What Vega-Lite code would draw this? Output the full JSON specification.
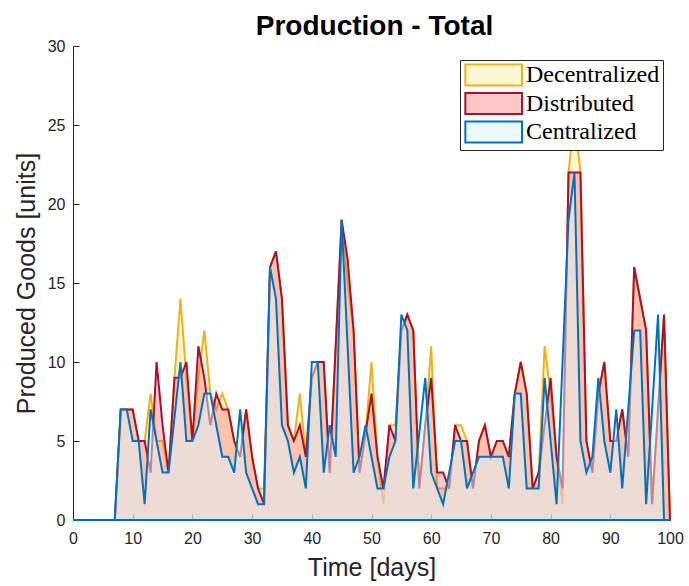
{
  "$schema": "https://vega.github.io/schema/vega-lite/v6.json",
  "autosize": {"type": "none"},
  "width": 597,
  "height": 474,
  "padding": {"left": 73, "top": 46, "right": 19, "bottom": 66},
  "background": "white",
  "title": {"text": "Production - Total", "font": "Liberation Sans", "fontSize": 28, "fontWeight": "bold", "color": "black", "anchor": "middle", "offset": -3, "dx": 3},
  "config": {
    "view": {"stroke": null},
    "axis": {"grid": false, "domainColor": "#262626", "tickColor": "#262626", "labelColor": "#262626", "titleColor": "#262626", "labelFont": "Liberation Sans", "titleFont": "Liberation Sans", "labelFontSize": 16, "titleFontSize": 25, "titleFontWeight": "normal", "tickSize": -6, "domainWidth": 1, "tickWidth": 1, "labelFlush": false}
  },
  "datasets": {
    "dec": [
      {"day":0,"value":0},{"day":1,"value":0},{"day":2,"value":0},{"day":3,"value":0},{"day":4,"value":0},{"day":5,"value":0},{"day":6,"value":0},{"day":7,"value":0},
      {"day":8,"value":7},{"day":9,"value":7},{"day":10,"value":7},{"day":11,"value":5},{"day":12,"value":5},{"day":13,"value":8},{"day":14,"value":5},{"day":15,"value":5},{"day":16,"value":3},{"day":17,"value":9},{"day":18,"value":14},{"day":19,"value":9},{"day":20,"value":5},
      {"day":21,"value":9},{"day":22,"value":12},{"day":23,"value":8},{"day":24,"value":7},{"day":25,"value":8},{"day":26,"value":7},{"day":27,"value":5},{"day":28,"value":4},{"day":29,"value":7},{"day":30,"value":4},
      {"day":31,"value":2},{"day":32,"value":2},{"day":33,"value":16},{"day":34,"value":17},{"day":35,"value":14},{"day":36,"value":6},{"day":37,"value":5},{"day":38,"value":8},{"day":39,"value":4},{"day":40,"value":9},
      {"day":41,"value":10},{"day":42,"value":10},{"day":43,"value":3},{"day":44,"value":11},{"day":45,"value":19},{"day":46,"value":15},{"day":47,"value":12},{"day":48,"value":3},{"day":49,"value":5.5},{"day":50,"value":10},
      {"day":51,"value":4},{"day":52,"value":1},{"day":53,"value":6},{"day":54,"value":6},{"day":55,"value":12},{"day":56,"value":13},{"day":57,"value":12},{"day":58,"value":2},{"day":59,"value":6},{"day":60,"value":11},
      {"day":61,"value":2},{"day":62,"value":2},{"day":63,"value":2},{"day":64,"value":6},{"day":65,"value":6},{"day":66,"value":5},{"day":67,"value":2},{"day":68,"value":5},{"day":69,"value":6},{"day":70,"value":4},
      {"day":71,"value":5},{"day":72,"value":5},{"day":73,"value":4},{"day":74,"value":8},{"day":75,"value":10},{"day":76,"value":8},{"day":77,"value":2},{"day":78,"value":3},{"day":79,"value":11},{"day":80,"value":8},
      {"day":81,"value":4},{"day":82,"value":1},{"day":83,"value":22},{"day":84,"value":25.5},{"day":85,"value":22},{"day":86,"value":5},{"day":87,"value":3},{"day":88,"value":8},{"day":89,"value":10},{"day":90,"value":5},
      {"day":91,"value":5},{"day":92,"value":7},{"day":93,"value":4},{"day":94,"value":16},{"day":95,"value":14},{"day":96,"value":12},{"day":97,"value":1},{"day":98,"value":7},{"day":99,"value":13},{"day":100,"value":0}
    ],
    "dis": [
      {"day":0,"value":0},{"day":1,"value":0},{"day":2,"value":0},{"day":3,"value":0},{"day":4,"value":0},{"day":5,"value":0},{"day":6,"value":0},{"day":7,"value":0},
      {"day":8,"value":7},{"day":9,"value":7},{"day":10,"value":7},{"day":11,"value":5},{"day":12,"value":5},{"day":13,"value":3},{"day":14,"value":10},{"day":15,"value":6},{"day":16,"value":3},{"day":17,"value":9},{"day":18,"value":9},{"day":19,"value":10},{"day":20,"value":5},
      {"day":21,"value":11},{"day":22,"value":9},{"day":23,"value":6},{"day":24,"value":8},{"day":25,"value":7},{"day":26,"value":7},{"day":27,"value":5},{"day":28,"value":4},{"day":29,"value":7},{"day":30,"value":4},
      {"day":31,"value":2},{"day":32,"value":1},{"day":33,"value":16},{"day":34,"value":17},{"day":35,"value":14},{"day":36,"value":6},{"day":37,"value":5},{"day":38,"value":6},{"day":39,"value":4},{"day":40,"value":9},
      {"day":41,"value":10},{"day":42,"value":10},{"day":43,"value":3},{"day":44,"value":11},{"day":45,"value":19},{"day":46,"value":16.5},{"day":47,"value":12},{"day":48,"value":3},{"day":49,"value":5.5},{"day":50,"value":8},
      {"day":51,"value":4},{"day":52,"value":2},{"day":53,"value":6},{"day":54,"value":5},{"day":55,"value":12},{"day":56,"value":13},{"day":57,"value":12},{"day":58,"value":2},{"day":59,"value":6},{"day":60,"value":9},
      {"day":61,"value":3},{"day":62,"value":3},{"day":63,"value":2},{"day":64,"value":6},{"day":65,"value":5},{"day":66,"value":5},{"day":67,"value":2},{"day":68,"value":5},{"day":69,"value":6},{"day":70,"value":4},
      {"day":71,"value":5},{"day":72,"value":5},{"day":73,"value":4},{"day":74,"value":8},{"day":75,"value":10},{"day":76,"value":8},{"day":77,"value":2},{"day":78,"value":3},{"day":79,"value":6},{"day":80,"value":9},
      {"day":81,"value":4},{"day":82,"value":2},{"day":83,"value":22},{"day":84,"value":22},{"day":85,"value":22},{"day":86,"value":5},{"day":87,"value":3},{"day":88,"value":8},{"day":89,"value":10},{"day":90,"value":5},
      {"day":91,"value":5},{"day":92,"value":7},{"day":93,"value":4},{"day":94,"value":16},{"day":95,"value":14},{"day":96,"value":12},{"day":97,"value":1},{"day":98,"value":7},{"day":99,"value":13},{"day":100,"value":0}
    ],
    "cen": [
      {"day":0,"value":0},{"day":1,"value":0},{"day":2,"value":0},{"day":3,"value":0},{"day":4,"value":0},{"day":5,"value":0},{"day":6,"value":0},{"day":7,"value":0},
      {"day":8,"value":7},{"day":9,"value":7},{"day":10,"value":5},{"day":11,"value":5},{"day":12,"value":1},{"day":13,"value":7},{"day":14,"value":5},{"day":15,"value":3},{"day":16,"value":3},{"day":17,"value":6.5},{"day":18,"value":10},{"day":19,"value":5},{"day":20,"value":5},
      {"day":21,"value":6},{"day":22,"value":8},{"day":23,"value":8},{"day":24,"value":6},{"day":25,"value":4},{"day":26,"value":4},{"day":27,"value":3},{"day":28,"value":7},{"day":29,"value":3},{"day":30,"value":2},
      {"day":31,"value":1},{"day":32,"value":1},{"day":33,"value":16},{"day":34,"value":14},{"day":35,"value":6},{"day":36,"value":5},{"day":37,"value":3},{"day":38,"value":4},{"day":39,"value":2},{"day":40,"value":10},
      {"day":41,"value":10},{"day":42,"value":3},{"day":43,"value":6},{"day":44,"value":4},{"day":45,"value":19},{"day":46,"value":11},{"day":47,"value":3},{"day":48,"value":4},{"day":49,"value":6},{"day":50,"value":4},
      {"day":51,"value":2},{"day":52,"value":2},{"day":53,"value":4},{"day":54,"value":5},{"day":55,"value":13},{"day":56,"value":12},{"day":57,"value":2},{"day":58,"value":5.5},{"day":59,"value":9},{"day":60,"value":3},
      {"day":61,"value":2},{"day":62,"value":1},{"day":63,"value":3},{"day":64,"value":5},{"day":65,"value":5},{"day":66,"value":2},{"day":67,"value":3},{"day":68,"value":4},{"day":69,"value":4},{"day":70,"value":4},
      {"day":71,"value":4},{"day":72,"value":4},{"day":73,"value":2},{"day":74,"value":8},{"day":75,"value":8},{"day":76,"value":2},{"day":77,"value":2},{"day":78,"value":2},{"day":79,"value":9},{"day":80,"value":5},
      {"day":81,"value":1},{"day":82,"value":10},{"day":83,"value":19},{"day":84,"value":22},{"day":85,"value":5},{"day":86,"value":3},{"day":87,"value":4},{"day":88,"value":9},{"day":89,"value":5},{"day":90,"value":3},
      {"day":91,"value":7},{"day":92,"value":2},{"day":93,"value":7},{"day":94,"value":12},{"day":95,"value":12},{"day":96,"value":1},{"day":97,"value":7},{"day":98,"value":13},{"day":99,"value":0},{"day":100,"value":0}
    ]
  },
  "encoding": {
    "x": {"field": "day", "type": "quantitative", "scale": {"domain": [0, 100], "nice": false}, "axis": {"title": "Time [days]", "values": [0,10,20,30,40,50,60,70,80,90,100], "labelPadding": 16, "titlePadding": 9}},
    "y": {"field": "value", "type": "quantitative", "scale": {"domain": [0, 30], "nice": false}, "axis": {"title": "Produced Goods [units]", "values": [0,5,10,15,20,25,30], "labelPadding": 14, "titlePadding": 8}}
  },
  "layer": [
    {"data": {"name": "dec"}, "mark": {"type": "area", "fill": "#FFE680", "fillOpacity": 0.35, "stroke": "#EDB120", "strokeWidth": 2}},
    {"data": {"name": "dis"}, "mark": {"type": "area", "fill": "#FF6060", "fillOpacity": 0.35, "stroke": "#A2142F", "strokeWidth": 2}},
    {"data": {"name": "cen"}, "mark": {"type": "area", "fill": "#D9F6FF", "fillOpacity": 0.5, "stroke": "#0072BD", "strokeWidth": 2}},
    {
      "data": {"values": []},
      "mark": {"type": "point", "filled": true, "opacity": 1},
      "encoding": {
        "x": {"field": "day", "type": "quantitative"},
        "y": {"field": "value", "type": "quantitative"},
        "fill": {"field": "series", "type": "nominal",
          "scale": {"domain": ["Decentralized", "Distributed", "Centralized"], "range": ["#FFF6D3", "#FFC7C7", "#ECFAFF"]},
          "legend": {"title": null, "orient": "none", "legendX": 387, "legendY": 14, "symbolType": "M-0.92,-1H4.48V1H-0.92Z", "symbolSize": 441, "symbolStrokeWidth": 2, "symbolOpacity": 1, "labelFont": "Liberation Serif", "labelFontSize": 24, "labelColor": "black", "labelOffset": 39, "padding": 3, "rowPadding": -1.5, "strokeColor": "#262626", "fillColor": "white"}},
        "stroke": {"field": "series", "type": "nominal",
          "scale": {"domain": ["Decentralized", "Distributed", "Centralized"], "range": ["#EDB120", "#A2142F", "#0072BD"]},
          "legend": {"title": null, "orient": "none", "legendX": 387, "legendY": 14, "symbolType": "M-0.92,-1H4.48V1H-0.92Z", "symbolSize": 441, "symbolStrokeWidth": 2, "symbolOpacity": 1, "labelFont": "Liberation Serif", "labelFontSize": 24, "labelColor": "black", "labelOffset": 39, "padding": 3, "rowPadding": -1.5, "strokeColor": "#262626", "fillColor": "white"}}
      }
    }
  ]
}
